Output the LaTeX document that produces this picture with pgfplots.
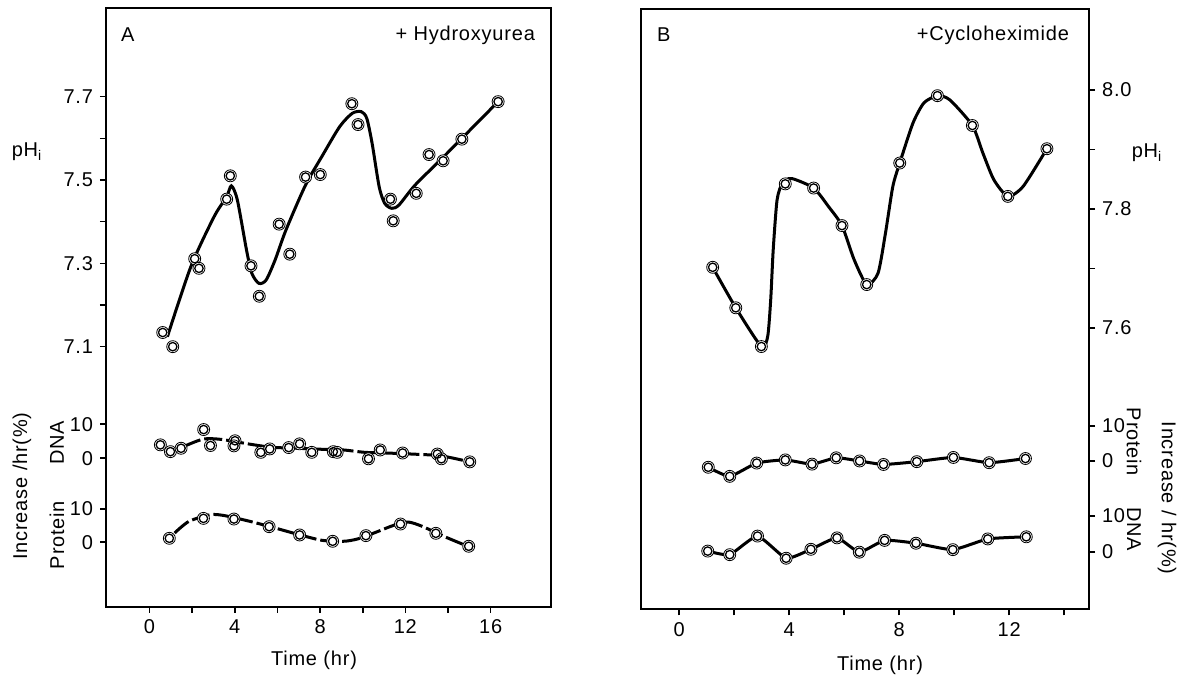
\documentclass[border=0pt]{standalone}
\usepackage{fontspec}
\setmainfont{Liberation Sans}[LetterSpace=4.0]
\usepackage{pgfplots}
\pgfplotsset{compat=1.18}
\pgfplotsset{
  every axis/.append style={font=\fontsize{10}{12}\selectfont},
  mycurve/.style={black, line width=1.5pt, smooth, tension=0.45, no marks},
  mydash/.style={black, line width=1.5pt, smooth, tension=0.45, no marks, dash pattern=on 9pt off 2pt},
  halo/.style={only marks, mark=*, mark size=3.0pt, mark options={draw=none, fill=white}},
  pts/.style={only marks, mark=o, mark size=2.1pt, mark options={draw=black, line width=0.65pt}},
  panelA/.style={at={(53pt,34.15pt)}, anchor=south west, scale only axis, width=222.5pt, height=299.2pt, xmin=-2.04, xmax=18.83, clip=false},
  panelB/.style={at={(320.3pt,32.85pt)}, anchor=south west, scale only axis, width=224.2pt, height=300pt, xmin=-1.4, xmax=14.9, clip=false},
  sub/.style={axis x line*=bottom, axis line style={draw=none}, xtick=\empty, ytick={0,10}, yticklabels={0,10}, tick align=outside, major tick length=3pt, tick style={black, line width=0.8pt}},
}
\begin{document}
\begin{tikzpicture}
\useasboundingbox (0,0) rectangle (588.5pt,337.5pt);
% ---------------- Panel A ----------------
\begin{axis}[panelA, ymin=6.476, ymax=7.912,
  xtick={0,4,8,12,16}, xticklabels={0,4,8,12,16}, minor xtick={2,6,10,14},
  ytick={7.1,7.3,7.5,7.7}, yticklabels={7.1,7.3,7.5,7.7}, minor ytick={7.2,7.4,7.6},
  xtick pos=left, ytick pos=left, tick align=outside,
  major tick length=3pt, minor tick length=3pt,
  axis line style={line width=1pt}, tick style={black, line width=0.8pt}]
\addplot[mycurve] coordinates {(0.84,7.124) (1.94,7.292) (3.03,7.412) (3.62,7.46) (3.84,7.486) (4.12,7.452) (4.55,7.332) (4.80,7.276) (5.13,7.252) (5.47,7.26) (5.89,7.308) (6.40,7.38) (7.32,7.488) (8.08,7.556) (8.92,7.628) (9.51,7.66) (9.93,7.664) (10.19,7.648) (10.44,7.588) (10.77,7.484) (11.03,7.444) (11.36,7.432) (11.70,7.44) (12.46,7.488) (13.80,7.556) (16.35,7.688)};
\addplot[halo] coordinates {(0.62,7.134) (1.09,7.10) (2.12,7.311) (2.32,7.288) (3.62,7.454) (3.79,7.510) (4.76,7.294) (5.15,7.221) (6.08,7.394) (6.58,7.322) (7.32,7.507) (8.01,7.513) (9.49,7.683) (9.78,7.633) (11.30,7.454) (11.43,7.402) (12.51,7.468) (13.11,7.561) (13.77,7.546) (14.65,7.598) (16.35,7.688)};
\addplot[pts] coordinates {(0.62,7.134) (1.09,7.10) (2.12,7.311) (2.32,7.288) (3.62,7.454) (3.79,7.510) (4.76,7.294) (5.15,7.221) (6.08,7.394) (6.58,7.322) (7.32,7.507) (8.01,7.513) (9.49,7.683) (9.78,7.633) (11.30,7.454) (11.43,7.402) (12.51,7.468) (13.11,7.561) (13.77,7.546) (14.65,7.598) (16.35,7.688)};
\end{axis}
% DNA (A)
\begin{axis}[panelA, sub, axis y line*=left, ymin=-43.7, ymax=132.3]
\addplot[mydash] coordinates {(1.6,3.4) (2.52,5.6) (3.37,5.5) (4.71,4.1) (5.72,3.2) (6.9,2.9) (8.08,2.6) (9.09,2.4) (10.1,1.7) (11.11,1.5) (12.29,1.2) (13.64,0.7) (14.81,-0.8)};
\addplot[halo] coordinates {(0.51,3.9) (0.98,1.9) (1.48,2.9) (2.54,8.4) (2.86,3.7) (4.01,5.1) (3.96,3.6) (5.22,1.7) (5.64,2.7) (6.53,3.1) (7.04,4.2) (7.61,1.7) (8.62,1.9) (8.80,1.7) (10.27,-0.2) (10.82,2.4) (11.87,1.5) (13.50,1.2) (13.69,-0.2) (15.02,-1.1)};
\addplot[pts] coordinates {(0.51,3.9) (0.98,1.9) (1.48,2.9) (2.54,8.4) (2.86,3.7) (4.01,5.1) (3.96,3.6) (5.22,1.7) (5.64,2.7) (6.53,3.1) (7.04,4.2) (7.61,1.7) (8.62,1.9) (8.80,1.7) (10.27,-0.2) (10.82,2.4) (11.87,1.5) (13.50,1.2) (13.69,-0.2) (15.02,-1.1)};
\end{axis}
% Protein (A)
\begin{axis}[panelA, sub, axis y line*=left, ymin=-19.4, ymax=160.8]
\addplot[mydash] coordinates {(1.18,2.8) (1.85,6.3) (2.86,8.3) (3.54,8.0) (4.71,6.3) (5.72,4.6) (6.9,2.5) (8.08,0.6) (9.09,0.3) (9.76,1.0) (10.61,3.0) (11.45,5.1) (12.12,6.1) (12.79,4.8) (13.8,1.8) (14.81,-0.9)};
\addplot[halo] coordinates {(0.93,1.2) (2.53,7.2) (3.96,7.0) (5.61,4.7) (7.04,2.2) (8.59,0.3) (10.15,2.0) (11.77,5.5) (13.43,2.7) (14.97,-1.2)};
\addplot[pts] coordinates {(0.93,1.2) (2.53,7.2) (3.96,7.0) (5.61,4.7) (7.04,2.2) (8.59,0.3) (10.15,2.0) (11.77,5.5) (13.43,2.7) (14.97,-1.2)};
\end{axis}
% ---------------- Panel B ----------------
\begin{axis}[panelB, ymin=7.128, ymax=8.135,
  xtick={0,4,8,12}, xticklabels={0,4,8,12}, minor xtick={2,6,10,14},
  ytick={7.6,7.8,8.0}, yticklabels={7.6,7.8,8.0}, minor ytick={7.7,7.9},
  xtick pos=left, ytick pos=right, yticklabel pos=right, tick align=outside,
  major tick length=3pt, minor tick length=3pt,
  axis line style={line width=1pt}, tick style={black, line width=0.8pt}]
\addplot[mycurve, tension=0.4] coordinates {(1.22,7.702) (2.06,7.634) (2.99,7.569) (3.22,7.586) (3.33,7.648) (3.42,7.731) (3.56,7.815) (3.76,7.844) (4.09,7.851) (4.89,7.835) (5.43,7.804) (5.92,7.772) (6.36,7.715) (6.82,7.673) (7.23,7.692) (7.5,7.759) (7.77,7.838) (8.02,7.877) (8.5,7.944) (8.9,7.978) (9.39,7.990) (9.84,7.983) (10.66,7.940) (11.04,7.894) (11.44,7.849) (11.95,7.821) (12.51,7.838) (13.37,7.901)};
\addplot[halo] coordinates {(1.22,7.702) (2.06,7.634) (2.99,7.569) (3.86,7.842) (4.89,7.835) (5.92,7.772) (6.82,7.673) (8.02,7.877) (9.39,7.990) (10.66,7.940) (11.95,7.821) (13.37,7.901)};
\addplot[pts] coordinates {(1.22,7.702) (2.06,7.634) (2.99,7.569) (3.86,7.842) (4.89,7.835) (5.92,7.772) (6.82,7.673) (8.02,7.877) (9.39,7.990) (10.66,7.940) (11.95,7.821) (13.37,7.901)};
\end{axis}
% Protein (B)
\begin{axis}[panelB, sub, axis y line*=right, yticklabel pos=right, ymin=-42.4, ymax=129.1]
\addplot[mycurve, tension=0.3] coordinates {(1.06,-1.8) (1.84,-4.4) (2.82,-0.6) (3.86,0.3) (4.83,-0.9) (5.71,0.9) (6.56,0.0) (7.43,-1.0) (8.64,-0.2) (9.97,1.0) (11.27,-0.5) (12.59,0.7)};
\addplot[halo] coordinates {(1.06,-1.8) (1.84,-4.4) (2.82,-0.6) (3.86,0.3) (4.83,-0.9) (5.71,0.9) (6.56,0.0) (7.43,-1.0) (8.64,-0.2) (9.97,1.0) (11.27,-0.5) (12.59,0.7)};
\addplot[pts] coordinates {(1.06,-1.8) (1.84,-4.4) (2.82,-0.6) (3.86,0.3) (4.83,-0.9) (5.71,0.9) (6.56,0.0) (7.43,-1.0) (8.64,-0.2) (9.97,1.0) (11.27,-0.5) (12.59,0.7)};
\end{axis}
% DNA (B)
\begin{axis}[panelB, sub, axis y line*=right, yticklabel pos=right, ymin=-16.1, ymax=151.9]
\addplot[mycurve, tension=0.3] coordinates {(1.04,0.2) (1.84,-0.8) (2.85,4.4) (3.89,-1.8) (4.79,0.7) (5.74,3.9) (6.55,-0.1) (7.47,3.2) (8.61,2.4) (9.95,0.6) (11.22,3.6) (12.62,4.2)};
\addplot[halo] coordinates {(1.04,0.2) (1.84,-0.8) (2.85,4.4) (3.89,-1.8) (4.79,0.7) (5.74,3.9) (6.55,-0.1) (7.47,3.2) (8.61,2.4) (9.95,0.6) (11.22,3.6) (12.62,4.2)};
\addplot[pts] coordinates {(1.04,0.2) (1.84,-0.8) (2.85,4.4) (3.89,-1.8) (4.79,0.7) (5.74,3.9) (6.55,-0.1) (7.47,3.2) (8.61,2.4) (9.95,0.6) (11.22,3.6) (12.62,4.2)};
\end{axis}
% ---------------- Labels ----------------
\begin{scope}[font=\fontsize{10}{12}\selectfont]
\node at (13.5pt,261.5pt) {pH$_{\mathrm{i}}$};
\node[anchor=west] at (57pt,320pt) {A};
\node[anchor=east] at (271pt,320pt) {+ Hydroxyurea};
\node[rotate=90] at (11pt,94.5pt) {Increase /hr(\%)};
\node[rotate=90] at (28.5pt,116pt) {DNA};
\node[rotate=90] at (28.5pt,70pt) {Protein};
\node at (157pt,7.5pt) {Time (hr)};
\node[anchor=west] at (325pt,320pt) {B};
\node[anchor=east] at (538pt,320pt) {+Cycloheximide};
\node at (573.5pt,261pt) {pH$_{\mathrm{i}}$};
\node[rotate=-90] at (583.5pt,88.5pt) {Increase / hr(\%)};
\node[rotate=-90] at (567pt,116.5pt) {Protein};
\node[rotate=-90] at (567pt,73pt) {DNA};
\node at (440pt,5pt) {Time (hr)};
\end{scope}
\end{tikzpicture}
\end{document}
